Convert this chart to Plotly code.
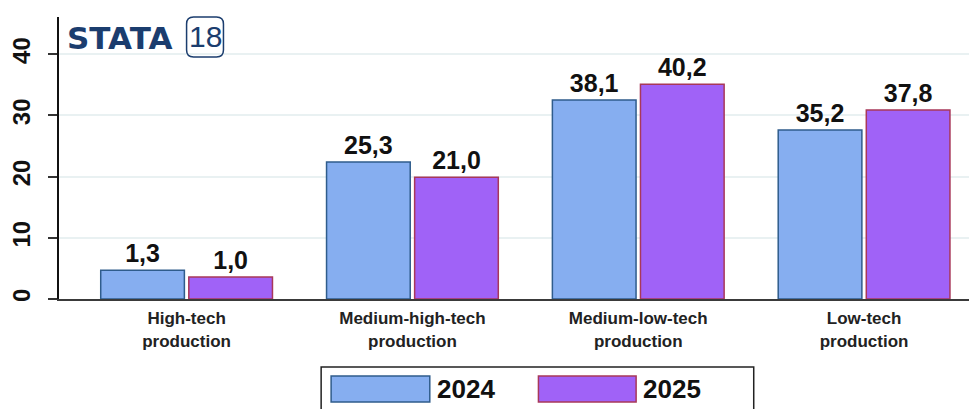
import re
import plotly.graph_objects as go

categories = ["High-tech<br>production", "Medium-high-tech<br>production",
              "Medium-low-tech<br>production", "Low-tech<br>production"]
series_names = ["2024", "2025"]
values_2024 = [4.7, 22.4, 32.5, 27.6]
values_2025 = [3.6, 19.9, 35.1, 30.9]
labels_2024 = ["1,3", "25,3", "38,1", "35,2"]
labels_2025 = ["1,0", "21,0", "40,2", "37,8"]
y_ticks = [0, 10, 20, 30, 40]

fill_colors = ["#86aef0", "#a062f7"]
line_colors = ["#2f5c8c", "#a8385a"]

# page body has an 8px margin; lay the figure out in reference-pixel terms
OFF = 8
W, H = 977 - OFF, 409 - OFF
L, R, T = 56 - OFF, 0, 17 - OFF
PLOT_BOTTOM = 299 - OFF
B = H - PLOT_BOTTOM
PW, PH = W - L - R, H - T - B


def px(x):
    return (x - OFF - L) / PW


def py(y):
    return (PLOT_BOTTOM - (y - OFF)) / PH


FONT = "Liberation Sans, Arial, sans-serif"

fig = go.Figure()
for name, vals, labs, fc, lc in zip(series_names, [values_2024, values_2025],
                                     [labels_2024, labels_2025], fill_colors, line_colors):
    fig.add_trace(go.Bar(
        x=categories, y=vals, name=name, text=labs,
        textposition="outside", cliponaxis=False,
        textfont=dict(family=FONT, size=25, color="#111", weight="bold"),
        marker=dict(color=fc, line=dict(color=lc, width=1.5)),
        showlegend=False,
    ))

fig.update_layout(
    width=W, height=H,
    margin=dict(l=L, r=R, t=T, b=B, pad=0),
    paper_bgcolor="white", plot_bgcolor="white",
    barmode="group", bargap=0.22, bargroupgap=0.05,
    xaxis=dict(
        type="category", range=[-0.565, 3.5],
        showline=True, linecolor="#3a3a3a", linewidth=2,
        ticks="", showgrid=False,
        tickfont=dict(family=FONT, size=17, color="#222", weight="bold"),
        ticklabelstandoff=3,
    ),
    yaxis=dict(
        range=[0, PH / 6.12], tickvals=y_ticks,
        showline=True, linecolor="#111", linewidth=1.5,
        ticks="outside", ticklen=9, tickwidth=1.5, tickcolor="#333",
        tickangle=-90,
        tickfont=dict(family=FONT, size=24, color="#111", weight="bold"),
        showgrid=True, gridcolor="#e9f1f2", gridwidth=1.5,
        zeroline=False, ticklabelstandoff=9,
    ),
)

shapes = []
annotations = []

# legend box
shapes.append(dict(type="rect", xref="paper", yref="paper",
                   x0=px(319), x1=px(753), y0=py(367), y1=py(430),
                   line=dict(color="#222", width=1.5), fillcolor="white", layer="above"))
leg_swatch_x = [(329, 428), (537, 635)]
leg_text_x = [433, 640]
for (x0, x1), tx, name, fc, lc in zip(leg_swatch_x, leg_text_x, series_names, fill_colors, line_colors):
    shapes.append(dict(type="rect", xref="paper", yref="paper",
                       x0=px(x0), x1=px(x1), y0=py(376), y1=py(402),
                       line=dict(color=lc, width=1.5), fillcolor=fc, layer="above"))
    annotations.append(dict(xref="paper", yref="paper", x=px(tx), y=py(389),
                            xanchor="left", yanchor="middle", showarrow=False,
                            text=name, font=dict(family=FONT, size=26, color="#111", weight="bold")))

# Stata logo
annotations.append(dict(xref="paper", yref="paper", x=px(62), y=py(38),
                        xanchor="left", yanchor="middle", showarrow=False,
                        text="STATA", font=dict(family="DejaVu Sans, sans-serif", size=31,
                                                color="#1b3d6e", weight="bold")))
x0, x1, y0, y1, r = 184, 221, 17, 57, 7
path = (f"M {x0 + r},{y0} L {x1 - r},{y0} Q {x1},{y0} {x1},{y0 + r} L {x1},{y1 - r} "
        f"Q {x1},{y1} {x1 - r},{y1} L {x0 + r},{y1} Q {x0},{y1} {x0},{y1 - r} "
        f"L {x0},{y0 + r} Q {x0},{y0} {x0 + r},{y0} Z")


def conv(m):
    a, b = float(m.group(1)), float(m.group(2))
    return f"{px(a):.5f},{py(b):.5f}"


path_paper = re.sub(r"([\d.]+),([\d.]+)", conv, path)
shapes.append(dict(type="path", xref="paper", yref="paper", path=path_paper,
                   line=dict(color="#1b3d6e", width=1.5), layer="above"))
annotations.append(dict(xref="paper", yref="paper", x=px(202.5), y=py(37),
                        xanchor="center", yanchor="middle", showarrow=False,
                        text="18", font=dict(family="Liberation Sans Narrow, Liberation Sans, sans-serif",
                                             size=30, color="#1b3d6e")))

fig.update_layout(shapes=shapes, annotations=annotations)
fig.write_html("out.html")
